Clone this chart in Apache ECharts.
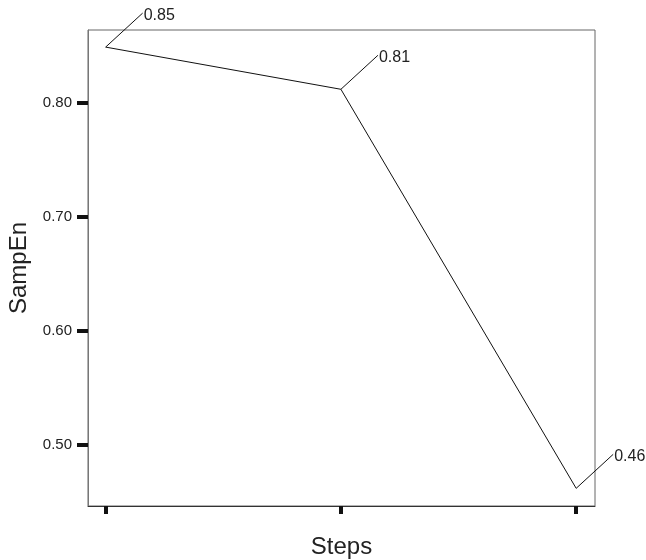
<!DOCTYPE html>
<html>
<head>
<meta charset="utf-8">
<script src="https://cdn.jsdelivr.net/npm/echarts@6/dist/echarts.min.js"></script>
<style>html,body{margin:0;padding:0;background:#fff;}#c{width:646px;height:560px;}</style>
</head>
<body>
<div id="c"></div>
<script>
var steps = [0, 1, 2];
var sampEn = [0.849, 0.812, 0.462];
var yTicks = [0.5, 0.6, 0.7, 0.8];

var chart = echarts.init(document.getElementById('c'));
var font = 'Liberation Sans, Arial, sans-serif';
var pts = steps.map(function (s, i) { return [s, sampEn[i]]; });

chart.setOption({
  animation: false,
  backgroundColor: '#fff',
  grid: { left: 88, top: 30, right: 51, bottom: 54, show: true, borderColor: '#666', borderWidth: 1,
    containLabel: false, outerBoundsMode: 'none' },
  xAxis: {
    type: 'value', min: -0.075, max: 2.08,
    name: 'Steps', nameLocation: 'middle', nameGap: 29,
    nameTextStyle: { fontFamily: font, fontSize: 24, color: '#222' },
    axisLine: { show: true, onZero: false, lineStyle: { color: '#333', width: 1 } },
    axisTick: { show: true, customValues: steps, length: 8, lineStyle: { color: '#111', width: 4 } },
    axisLabel: { show: false },
    splitLine: { show: false }
  },
  yAxis: {
    type: 'value', min: 0.4465, max: 0.864,
    name: 'SampEn', nameLocation: 'middle', nameGap: 57,
    nameTextStyle: { fontFamily: font, fontSize: 24, color: '#222' },
    axisLine: { show: true, onZero: false, lineStyle: { color: '#777', width: 1 } },
    axisTick: { show: true, customValues: yTicks, length: 11, lineStyle: { color: '#111', width: 4 } },
    axisLabel: { show: true, customValues: yTicks, margin: 16, fontFamily: font, fontSize: 15, color: '#222',
      formatter: function (v) { return v.toFixed(2); } },
    splitLine: { show: false }
  },
  series: [
    {
      type: 'line', data: pts, symbol: 'none',
      lineStyle: { color: '#111', width: 1 }
    },
    {
      type: 'custom', data: pts, z: 5,
      renderItem: function (params, api) {
        var p = api.coord([api.value(0), api.value(1)]);
        var ex = p[0] + 37, ey = p[1] - 34;
        return {
          type: 'group',
          children: [
            { type: 'line', shape: { x1: p[0], y1: p[1], x2: ex, y2: ey }, style: { stroke: '#111', lineWidth: 1 } },
            { type: 'text', x: ex + 1, y: ey + 2, style: { text: api.value(1).toFixed(2), fill: '#222', font: '16px ' + font, verticalAlign: 'middle', align: 'left' } }
          ]
        };
      }
    }
  ]
});
</script>
</body>
</html>
